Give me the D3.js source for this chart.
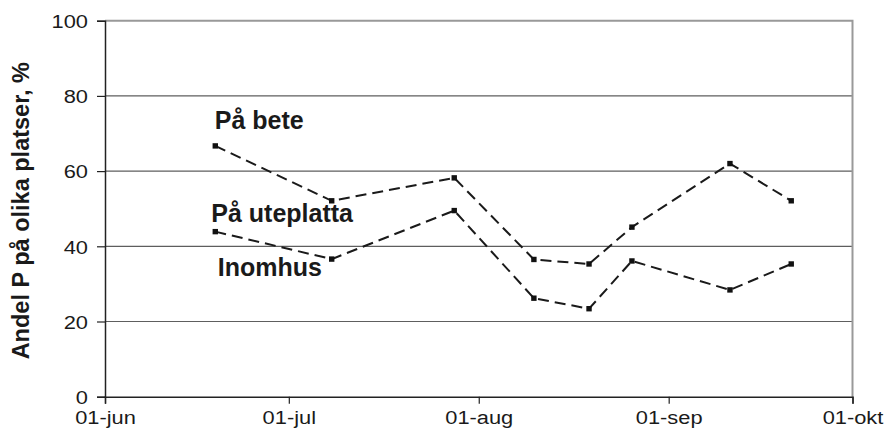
<!DOCTYPE html>
<html>
<head>
<meta charset="utf-8">
<script src="https://cdn.jsdelivr.net/npm/d3@7"></script>
<style>
  body { margin: 0; background: #fff; }
  text { font-family: Arial, "Liberation Sans", sans-serif; fill: #1a1a1a; }
</style>
</head>
<body>
<div id="chart"></div>
<script>
// sampling dates and the two measured series (andel P, %)
const dates = ["2009-06-19", "2009-07-08", "2009-07-28", "2009-08-10", "2009-08-19", "2009-08-26", "2009-09-11", "2009-09-21"];
const upperSeries = [66.7, 52.1, 58.2, 36.5, 35.3, 45.1, 62.0, 52.1];
const lowerSeries = [43.9, 36.6, 49.5, 26.2, 23.4, 36.1, 28.4, 35.3];

// axis ticks
const yTicks = [0, 20, 40, 60, 80, 100];
const xTickDates = ["2009-06-01", "2009-07-01", "2009-08-01", "2009-09-01", "2009-10-01"];
const xTickLabels = ["01-jun", "01-jul", "01-aug", "01-sep", "01-okt"];

// text labels placed at a value on the y scale
const labelTexts = ["På bete", "På uteplatta", "Inomhus"];
const labelValues = [71.2, 46.4, 32.2];
const labelShift = [-0.5, -4, 2.5];

const yTitle = "Andel P på olika platser, %";

const width = 884, height = 431;
const margin = {top: 20.7, right: 31.5, bottom: 34.3, left: 105};
const stretch = 1.15; // the reference lettering is a bit wide

const parse = d3.timeParse("%Y-%m-%d");

const svg = d3.select("#chart").append("svg")
    .attr("width", width)
    .attr("height", height);

const x = d3.scaleTime()
    .domain([parse(xTickDates[0]), parse(xTickDates[xTickDates.length - 1])])
    .range([margin.left, width - margin.right]);

const y = d3.scaleLinear()
    .domain([0, 100])
    .range([height - margin.bottom, margin.top]);

// horizontal grid lines
svg.append("g")
    .selectAll("line")
    .data(yTicks.filter(d => d > 0 && d < 100))
    .enter().append("line")
    .attr("x1", margin.left)
    .attr("x2", width - margin.right)
    .attr("y1", d => y(d))
    .attr("y2", d => y(d))
    .style("stroke", "#5e5e5e")
    .style("stroke-width", 1.2);

// frame top + right (grey)
svg.append("path")
    .attr("d", `M${margin.left},${y(100)}H${x.range()[1]}V${y(0)}`)
    .style("fill", "none")
    .style("stroke", "#999")
    .style("stroke-width", 2);

// y axis
const yAxis = svg.append("g")
    .attr("transform", `translate(${margin.left},0)`)
    .call(d3.axisLeft(y).tickValues(yTicks).tickSize(8).tickPadding(9));
yAxis.select(".domain").style("stroke", "#222").style("stroke-width", 1.5);
yAxis.selectAll(".tick line").style("stroke", "#222").style("stroke-width", 1.2);
yAxis.selectAll(".tick text")
    .style("font-size", "19px")
    .style("fill", "#1a1a1a")
    .attr("dy", "0.36em")
    .attr("transform", `translate(-17,0) scale(${stretch},1) translate(17,0)`);

// x axis
const xAxis = svg.append("g")
    .attr("transform", `translate(0,${y(0)})`)
    .call(d3.axisBottom(x)
        .tickValues(xTickDates.map(parse))
        .tickFormat((d, i) => xTickLabels[i])
        .tickSize(7).tickPadding(7));
xAxis.select(".domain").style("stroke", "#222").style("stroke-width", 1.5);
xAxis.selectAll(".tick line").style("stroke", "#222").style("stroke-width", 1.2);
xAxis.selectAll(".tick text")
    .style("font-size", "19px")
    .style("fill", "#1a1a1a")
    .attr("transform", `scale(${stretch},1)`);

// y axis title
svg.append("text")
    .attr("transform", `translate(29,${(y(0) + y(100)) / 2 + 2}) rotate(-90)`)
    .attr("text-anchor", "middle")
    .style("font-size", "23.5px")
    .style("font-weight", "bold")
    .text(yTitle);

// dashed lines + square markers
const line = d3.line()
    .x((d, i) => x(parse(dates[i])))
    .y(d => y(d));

[upperSeries, lowerSeries].forEach(series => {
    svg.append("path")
        .datum(series)
        .attr("d", line)
        .style("fill", "none")
        .style("stroke", "#1a1a1a")
        .style("stroke-width", 2)
        .style("stroke-dasharray", "11,6");

    svg.append("g")
        .selectAll("rect")
        .data(series)
        .enter().append("rect")
        .attr("x", (d, i) => x(parse(dates[i])) - 2.7)
        .attr("y", d => y(d) - 2.7)
        .attr("width", 5.4)
        .attr("height", 5.4)
        .style("fill", "#111");
});

// series labels
svg.append("g")
    .selectAll("text")
    .data(labelTexts)
    .enter().append("text")
    .attr("x", (d, i) => x(parse(dates[0])) + labelShift[i])
    .attr("y", (d, i) => y(labelValues[i]))
    .style("font-size", "25px")
    .style("font-weight", "bold")
    .text(d => d);
</script>
</body>
</html>
